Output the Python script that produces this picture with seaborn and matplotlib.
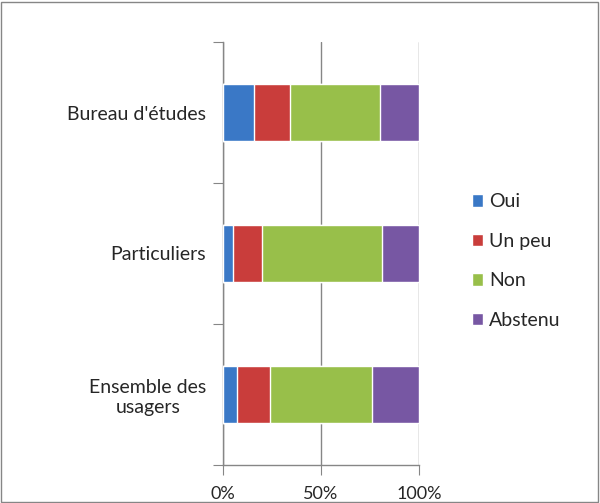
import seaborn as sns
import pandas as pd
import matplotlib.pyplot as plt
from matplotlib.patches import Patch, Rectangle

categories = ["Bureau d'études", "Particuliers", "Ensemble des\nusagers"]
series = ["Oui", "Un peu", "Non", "Abstenu"]
oui = [16, 5, 7]
un_peu = [18, 15, 17]
non = [46, 61, 52]
abstenu = [20, 19, 24]
colors = ["#3A78C6", "#C93D3B", "#98BF4A", "#7757A3"]

df = pd.DataFrame({"cat": categories, "Oui": oui, "Un peu": un_peu,
                   "Non": non, "Abstenu": abstenu})
tot = df[series].sum(axis=1)
for s in series:
    df[s] = df[s] / tot * 100

sns.set_style("white")
plt.rcParams['font.family'] = ['Lato', 'DejaVu Sans']

fig = plt.figure(figsize=(6, 5.03), dpi=100)
ax = fig.add_axes([223 / 600, 1 - 465 / 503, 196 / 600, 423 / 503])

# stacked: draw cumulative totals from the largest down
cum = df[series].cumsum(axis=1)
for s, c in reversed(list(zip(series, colors))):
    sns.barplot(x=cum[s], y=df["cat"], color=c, orient="h", width=0.41,
                ax=ax, saturation=1, zorder=3)

fs = 14
ax.set_xlim(0, 100)
ax.set_ylim(2.5, -0.5)
ax.set_xticks([0, 50, 100])
ax.set_xticklabels(["0%", "50%", "100%"], fontsize=13)
ax.set_xlabel("")
ax.set_ylabel("")
ax.set_yticks([-0.5, 0.5, 1.5, 2.5])
ax.set_yticklabels([])
ax.set_yticks([0, 1, 2], minor=True)
ax.set_yticklabels(categories, minor=True, fontsize=fs,
                   multialignment="center", linespacing=1.2)
ax.tick_params(axis="y", which="minor", length=0, pad=12)
ax.tick_params(axis="y", which="major", length=7, color="#868686",
               direction="out", left=True)
ax.tick_params(axis="x", length=7, color="#868686", direction="out",
               bottom=True, pad=8)
ax.xaxis.grid(True, color="#868686", linewidth=1, zorder=0)
ax.set_axisbelow(True)
for side in ["top", "right"]:
    ax.spines[side].set_visible(False)
for side in ["left", "bottom"]:
    ax.spines[side].set_color("#868686")
    ax.spines[side].set_linewidth(1)

handles = [Patch(facecolor=c, label=s) for s, c in zip(series, colors)]
fig.legend(handles=handles, loc="center left", bbox_to_anchor=(454 / 600, 1 - 261 / 503),
           frameon=False, fontsize=fs, handlelength=0.6, handleheight=0.6,
           handletextpad=0.3, labelspacing=1.15)

fig.patches.append(Rectangle((1 / 600, 1 / 503), 597 / 600, 500 / 503,
                             transform=fig.transFigure, fill=False,
                             edgecolor="#868686", linewidth=1))

fig.savefig("out.png", dpi=100)
